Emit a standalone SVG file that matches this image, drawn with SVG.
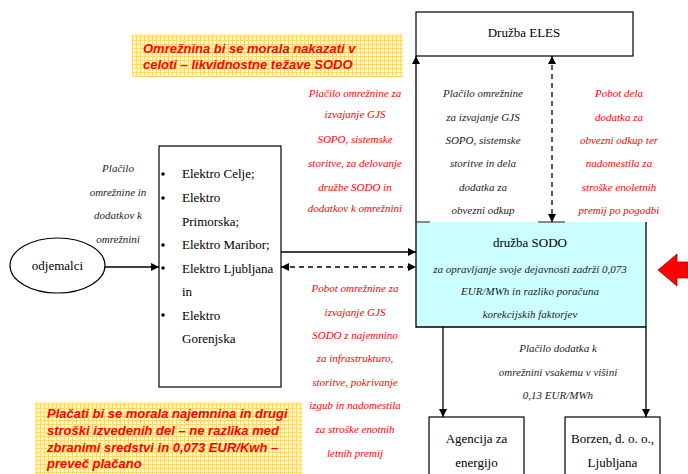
<svg xmlns="http://www.w3.org/2000/svg" width="688" height="474" viewBox="0 0 688 474">
<style>
.box{fill:#fff;stroke:#000;stroke-width:1.2}
.ln{stroke:#000;stroke-width:1.3;fill:none}
.dash{stroke:#000;stroke-width:1.3;fill:none;stroke-dasharray:5,4}
.t{font-family:"Liberation Serif","DejaVu Serif",serif;font-size:13px;fill:#000}
.i{font-family:"Liberation Serif","DejaVu Serif",serif;font-style:italic;font-size:11px;text-anchor:middle}
.red{fill:#ff0000}
.blk{fill:#222}
.warn{font-family:"Liberation Sans",Arial,sans-serif;font-weight:bold;font-style:italic;font-size:13px;fill:#ff0000}
</style>
<defs>
<pattern id="grid" width="4" height="4" patternUnits="userSpaceOnUse">
<rect width="4" height="4" fill="#fff7cc"/>
<path d="M0 0.5H4M0.5 0V4" stroke="#ffd966" stroke-width="1"/>
</pattern>
<marker id="ah" viewBox="0 0 10 10" refX="10" refY="5" markerWidth="8" markerHeight="8" markerUnits="userSpaceOnUse" orient="auto-start-reverse">
<path d="M0 0L10 5L0 10z" fill="#000"/>
</marker>
</defs>

<!-- yellow notes -->
<g id="note-top">
<rect x="132" y="34" width="271" height="43" fill="url(#grid)"/>
<text class="warn" x="143" y="53">Omrežnina bi se morala nakazati v</text>
<text class="warn" x="143" y="69">celoti – likvidnostne težave SODO</text>
</g>
<g id="note-bottom">
<rect x="35" y="402" width="267" height="72" fill="url(#grid)"/>
<text class="warn" x="47" y="418">Plačati bi se morala najemnina in drugi</text>
<text class="warn" x="47" y="435">stroški izvedenih del – ne razlika med</text>
<text class="warn" x="47" y="452">zbranimi sredstvi in 0,073 EUR/Kwh –</text>
<text class="warn" x="47" y="468">preveč plačano</text>
</g>

<!-- nodes -->
<g id="eles">
<rect class="box" x="416" y="12" width="217" height="44"/>
<text class="t" x="524" y="37" text-anchor="middle">Družba ELES</text>
</g>

<g id="odjemalci">
<ellipse cx="57.5" cy="265.5" rx="47.5" ry="27.5" fill="#fff" stroke="#000" stroke-width="1.2"/>
<text class="t" x="57.5" y="270" text-anchor="middle">odjemalci</text>
</g>

<g id="elektro">
<rect class="box" x="159" y="146" width="122" height="241"/>
<g class="t">
<circle cx="163" cy="174" r="1.8"/>
<text class="t" x="182" y="178">Elektro Celje;</text>
<circle cx="163" cy="198" r="1.8"/>
<text class="t" x="182" y="202">Elektro</text>
<text class="t" x="182" y="226">Primorska;</text>
<circle cx="163" cy="245" r="1.8"/>
<text class="t" x="182" y="249">Elektro Maribor;</text>
<circle cx="163" cy="268" r="1.8"/>
<text class="t" x="182" y="273">Elektro Ljubljana</text>
<text class="t" x="182" y="296">in</text>
<circle cx="163" cy="315" r="1.8"/>
<text class="t" x="182" y="320">Elektro</text>
<text class="t" x="182" y="343">Gorenjska</text>
</g>
</g>

<g id="sodo">
<rect x="416" y="222" width="230" height="105" fill="#ccffff"/>
<path class="ln" d="M416 222V327H646V222"/>
<path d="M416 222H430M538 222H565" stroke="#666" stroke-width="1.5"/>
<text class="t" x="530" y="247" text-anchor="middle">družba SODO</text>
<text class="i blk" x="530" y="273">za opravljanje svoje dejavnosti  zadrži 0,073</text>
<text class="i blk" x="530" y="295">EUR/MWh in razliko poračuna</text>
<text class="i blk" x="530" y="318">korekcijskih faktorjev</text>
</g>

<g id="agencija">
<rect class="box" x="429" y="417" width="95" height="70"/>
<text class="t" x="476.5" y="443" text-anchor="middle">Agencija za</text>
<text class="t" x="476.5" y="467" text-anchor="middle">energijo</text>
</g>

<g id="borzen">
<rect class="box" x="565" y="417" width="95" height="70"/>
<text class="t" x="612.5" y="443" text-anchor="middle">Borzen, d. o. o.,</text>
<text class="t" x="612.5" y="467" text-anchor="middle">Ljubljana</text>
</g>

<g id="red-arrow">
<polygon points="658,270 677,254 677,262 688,262 688,278 677,278 677,286" fill="#ff0000" stroke="#aa0000" stroke-width="0.8"/>
</g>

<!-- connectors -->
<g id="connectors">
<line class="ln" x1="105" y1="267" x2="159" y2="267" marker-end="url(#ah)"/>
<line class="ln" x1="281" y1="252" x2="416" y2="252" marker-end="url(#ah)"/>
<line class="dash" x1="281" y1="267" x2="416" y2="267" marker-start="url(#ah)" marker-end="url(#ah)"/>
<line class="ln" x1="416" y1="222" x2="416" y2="56" marker-end="url(#ah)"/>
<line class="dash" x1="552" y1="56" x2="552" y2="222" marker-start="url(#ah)" marker-end="url(#ah)"/>
<line class="ln" x1="443" y1="327" x2="443" y2="417" marker-end="url(#ah)"/>
<line class="ln" x1="646" y1="327" x2="646" y2="417" marker-end="url(#ah)"/>
</g>

<!-- connector labels -->
<g id="label-odjemalci">
<text class="i blk" x="118" y="172">Plačilo</text>
<text class="i blk" x="118" y="196">omrežnine in</text>
<text class="i blk" x="118" y="219">dodatkov k</text>
<text class="i blk" x="118" y="243">omrežnini</text>
</g>
<g id="label-red-top">
<text class="i red" x="355" y="97">Plačilo omrežnine  za</text>
<text class="i red" x="355" y="118">izvajanje GJS</text>
<text class="i red" x="355" y="143">SOPO, sistemske</text>
<text class="i red" x="355" y="167">storitve, za delovanje</text>
<text class="i red" x="355" y="191">družbe SODO in</text>
<text class="i red" x="355" y="212">dodatkov k omrežnini</text>
</g>
<g id="label-eles">
<text class="i blk" x="483" y="97">Plačilo omrežnine</text>
<text class="i blk" x="483" y="121">za izvajanje GJS</text>
<text class="i blk" x="483" y="144">SOPO, sistemske</text>
<text class="i blk" x="483" y="167">storitve in dela</text>
<text class="i blk" x="483" y="191">dodatka za</text>
<text class="i blk" x="483" y="214">obvezni odkup</text>
</g>
<g id="label-red-right">
<text class="i red" x="619" y="97">Pobot dela</text>
<text class="i red" x="619" y="121">dodatka za</text>
<text class="i red" x="619" y="144">obvezni odkup ter</text>
<text class="i red" x="619" y="167">nadomestila za</text>
<text class="i red" x="619" y="191">stroške enoletnih</text>
<text class="i red" x="619" y="214">premij po pogodbi</text>
</g>
<g id="label-red-bottom">
<text class="i red" x="355" y="292">Pobot omrežnine za</text>
<text class="i red" x="355" y="316">izvajanje GJS</text>
<text class="i red" x="355" y="339">SODO z najemnino</text>
<text class="i red" x="355" y="362">za infrastrukturo,</text>
<text class="i red" x="355" y="386">storitve, pokrivanje</text>
<text class="i red" x="355" y="409">izgub in nadomestila</text>
<text class="i red" x="355" y="433">za stroške enotnih</text>
<text class="i red" x="355" y="457">letnih premij</text>
</g>
<g id="label-dodatek">
<text class="i blk" x="558" y="352">Plačilo dodatka k</text>
<text class="i blk" x="558" y="376">omrežnini vsakemu v višini</text>
<text class="i blk" x="558" y="399">0,13 EUR/MWh</text>
</g>
</svg>
